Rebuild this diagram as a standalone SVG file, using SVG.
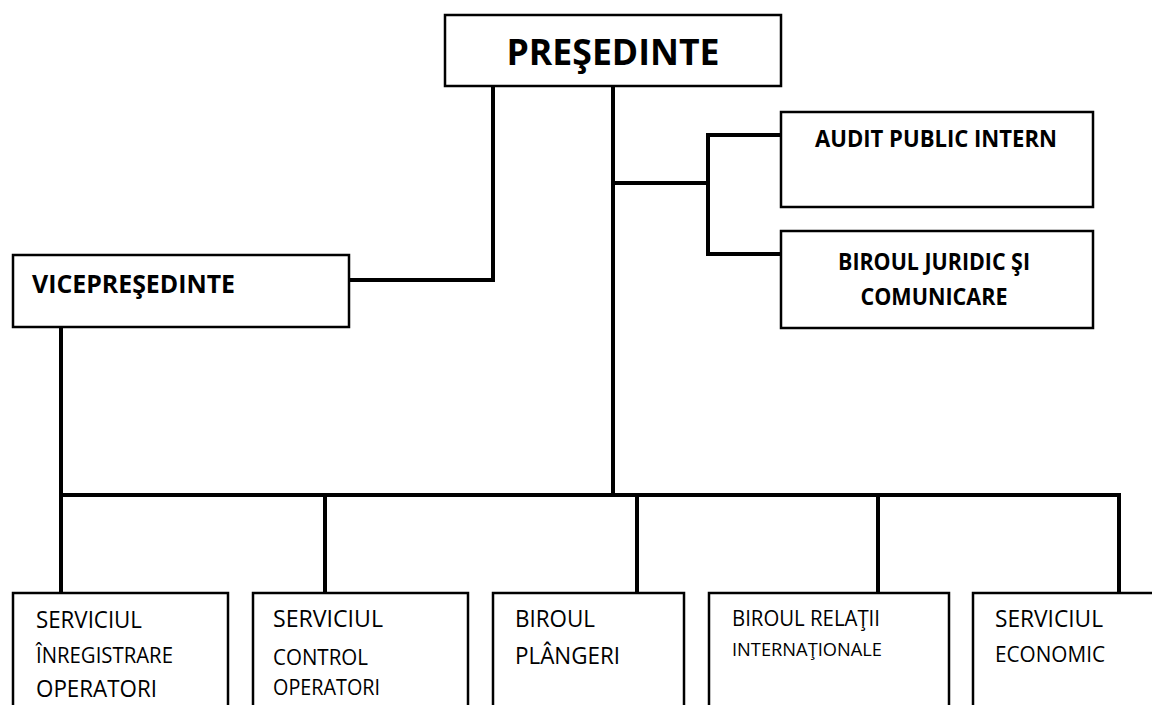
<svg xmlns="http://www.w3.org/2000/svg" width="1152" height="705" viewBox="0 0 1152 705">
<style>
.box{fill:#fff;stroke:#000;stroke-width:2.5}
.con{fill:none;stroke:#000;stroke-width:4;stroke-linecap:square}
text{font-family:"Open Sans","Noto Sans","Liberation Sans",sans-serif;fill:#000}
.b{font-weight:bold}
.c{text-anchor:middle}
</style>
<rect width="1152" height="705" fill="#fff"/>
<g id="connectors">
<path class="con" d="M493 86 V280 H349"/>
<path class="con" d="M613 86 V495"/>
<path class="con" d="M613 183 H708"/>
<path class="con" d="M781 135 H708 V254 H781"/>
<path class="con" d="M61 327 V593"/>
<path class="con" d="M61 495 H1119 V593"/>
<path class="con" d="M325 495 V593"/>
<path class="con" d="M637 495 V593"/>
<path class="con" d="M878 495 V593"/>
</g>
<g id="presedinte">
<rect class="box" x="445" y="15" width="336" height="71"/>
<text class="b c" x="613" y="65" font-size="36" textLength="213" lengthAdjust="spacingAndGlyphs">PREŞEDINTE</text>
</g>
<g id="audit">
<rect class="box" x="781" y="112" width="312" height="95"/>
<text class="b c" x="936" y="147" font-size="23" textLength="242" lengthAdjust="spacingAndGlyphs">AUDIT PUBLIC INTERN</text>
</g>
<g id="juridic">
<rect class="box" x="781" y="231" width="312" height="97"/>
<text class="b c" x="934" y="270" font-size="23" textLength="192" lengthAdjust="spacingAndGlyphs">BIROUL JURIDIC ŞI</text>
<text class="b c" x="934" y="305" font-size="23" textLength="147" lengthAdjust="spacingAndGlyphs">COMUNICARE</text>
</g>
<g id="vicepresedinte">
<rect class="box" x="13" y="255" width="336" height="72"/>
<text class="b" x="32" y="293" font-size="25" textLength="203" lengthAdjust="spacingAndGlyphs">VICEPREŞEDINTE</text>
</g>
<g id="serv-inregistrare">
<rect class="box" x="13" y="593" width="215" height="130"/>
<text x="36" y="628" font-size="24" textLength="106" lengthAdjust="spacingAndGlyphs">SERVICIUL</text>
<text x="36" y="663" font-size="21" textLength="137" lengthAdjust="spacingAndGlyphs">ÎNREGISTRARE</text>
<text x="36" y="697" font-size="24" textLength="121" lengthAdjust="spacingAndGlyphs">OPERATORI</text>
</g>
<g id="serv-control">
<rect class="box" x="253" y="593" width="215" height="130"/>
<text x="273" y="627" font-size="24" textLength="110" lengthAdjust="spacingAndGlyphs">SERVICIUL</text>
<text x="273" y="665" font-size="21" textLength="95" lengthAdjust="spacingAndGlyphs">CONTROL</text>
<text x="273" y="695" font-size="21" textLength="107" lengthAdjust="spacingAndGlyphs">OPERATORI</text>
</g>
<g id="birou-plangeri">
<rect class="box" x="493" y="593" width="191" height="130"/>
<text x="515" y="627" font-size="24" textLength="80" lengthAdjust="spacingAndGlyphs">BIROUL</text>
<text x="515" y="664" font-size="24" textLength="105" lengthAdjust="spacingAndGlyphs">PLÂNGERI</text>
</g>
<g id="birou-relatii">
<rect class="box" x="709" y="593" width="240" height="130"/>
<text x="732" y="626" font-size="22" textLength="148" lengthAdjust="spacingAndGlyphs">BIROUL RELAŢII</text>
<text x="732" y="656" font-size="19" textLength="150" lengthAdjust="spacingAndGlyphs">INTERNAŢIONALE</text>
</g>
<g id="serv-economic">
<rect class="box" x="973" y="593" width="200" height="130"/>
<text x="995" y="627" font-size="24" textLength="108" lengthAdjust="spacingAndGlyphs">SERVICIUL</text>
<text x="995" y="662" font-size="21" textLength="110" lengthAdjust="spacingAndGlyphs">ECONOMIC</text>
</g>
</svg>
